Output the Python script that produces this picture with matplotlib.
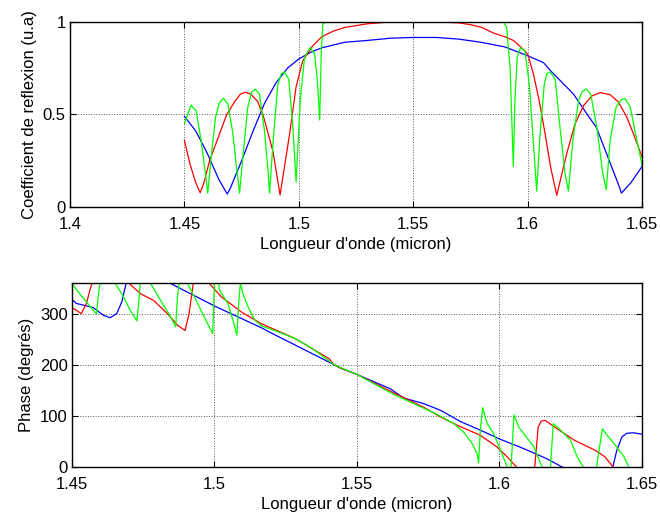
import matplotlib
matplotlib.use('Agg')
import matplotlib.pyplot as plt

plt.rcParams['font.family'] = ['Liberation Sans', 'DejaVu Sans']
plt.rcParams['font.size'] = 12

# --- Coefficient de reflexion (haut) ---
lam_rb = [1.45, 1.455, 1.46, 1.465, 1.4687, 1.47, 1.475, 1.48, 1.485, 1.49, 1.495, 1.5,
          1.505, 1.51, 1.515, 1.52, 1.53, 1.54, 1.55, 1.56, 1.57, 1.58, 1.59, 1.6,
          1.6069, 1.61, 1.62, 1.626, 1.63, 1.635, 1.64, 1.6409, 1.645, 1.65]
ref_b = [0.49, 0.41, 0.29, 0.15, 0.07, 0.10, 0.25, 0.41, 0.56, 0.67, 0.75, 0.80,
         0.835, 0.86, 0.875, 0.89, 0.90, 0.912, 0.916, 0.916, 0.907, 0.889, 0.865, 0.817,
         0.78, 0.736, 0.61, 0.50, 0.43, 0.27, 0.11, 0.075, 0.13, 0.22]

lam_rr = [1.45, 1.4525, 1.455, 1.4569, 1.4585, 1.461, 1.4655, 1.4685, 1.472, 1.4745,
          1.4765, 1.479, 1.482, 1.4843, 1.4887, 1.4918, 1.4959, 1.4988, 1.5017, 1.506,
          1.51, 1.515, 1.52, 1.53, 1.54, 1.55, 1.56, 1.57, 1.575, 1.58, 1.585, 1.59,
          1.5937, 1.5974, 1.6, 1.6025, 1.605, 1.6076, 1.61, 1.6127, 1.6149, 1.6174,
          1.6207, 1.6244, 1.628, 1.6317, 1.636, 1.6397, 1.6433, 1.6462, 1.65]
ref_r = [0.36, 0.23, 0.13, 0.077, 0.13, 0.25, 0.40, 0.50, 0.57, 0.61,
         0.62, 0.61, 0.57, 0.50, 0.30, 0.065, 0.39, 0.65, 0.79, 0.87,
         0.92, 0.95, 0.97, 0.99, 1.0, 1.0, 1.0, 0.995, 0.985, 0.97, 0.94, 0.92,
         0.90, 0.86, 0.826, 0.718, 0.575, 0.395, 0.215, 0.063, 0.18, 0.305,
         0.45, 0.548, 0.60, 0.618, 0.607, 0.566, 0.485, 0.395, 0.27]

lam_rg = [1.45, 1.4529, 1.4551, 1.4573, 1.4592, 1.4602, 1.4617, 1.4636, 1.4653, 1.4671,
          1.469, 1.4712, 1.4729, 1.4741, 1.4758, 1.4777, 1.4793, 1.481, 1.4828, 1.485,
          1.4865, 1.4872, 1.489, 1.4908, 1.4923, 1.4937, 1.4956, 1.4974, 1.4988, 1.5006,
          1.5025, 1.505, 1.5069, 1.5081, 1.5091, 1.5098, 1.5105, 1.512, 1.55, 1.5894,
          1.5908, 1.5923, 1.5937, 1.5944, 1.5954, 1.5969, 1.5988, 1.6007, 1.6024, 1.6039,
          1.6054, 1.6072, 1.6083, 1.6098, 1.612, 1.6141, 1.6163, 1.6178, 1.6197, 1.6222,
          1.6238, 1.6255, 1.6275, 1.6302, 1.6328, 1.6343, 1.636, 1.6386, 1.6407, 1.6425,
          1.6448, 1.6471, 1.65]
ref_g = [0.45, 0.55, 0.52, 0.36, 0.18, 0.075, 0.27, 0.485, 0.565, 0.587,
         0.557, 0.395, 0.20, 0.075, 0.305, 0.54, 0.62, 0.637, 0.61, 0.41,
         0.20, 0.075, 0.395, 0.66, 0.72, 0.73, 0.69, 0.43, 0.135, 0.575,
         0.81, 0.862, 0.826, 0.68, 0.47, 0.84, 0.99, 1.0, 1.0, 1.0,
         0.97, 0.75, 0.22, 0.575, 0.81, 0.862, 0.84, 0.66, 0.36, 0.086,
         0.395, 0.66, 0.72, 0.73, 0.69, 0.43, 0.18, 0.086, 0.36, 0.575,
         0.625, 0.637, 0.61, 0.43, 0.18, 0.093, 0.36, 0.54, 0.578, 0.587,
         0.54, 0.395, 0.224]

# --- Phase (bas) ---
lam_pb = [1.45, 1.4515, 1.4574, 1.461, 1.4634, 1.4657, 1.4675, 1.469, 1.472, 1.478,
          1.4846, 1.5, 1.5166, 1.52, 1.542, 1.5441, 1.55, 1.5617, 1.5664, 1.5734,
          1.5793, 1.5863, 1.5933, 1.6, 1.6085, 1.6167, 1.622, 1.63, 1.6385, 1.6398,
          1.6412, 1.643, 1.6447, 1.6471, 1.65]
ph_b = [328, 320, 312, 297, 292, 300, 323, 359, 385, 375,
        359, 315, 272, 262, 200, 194, 181, 153, 135, 124,
        111, 89, 72, 55, 36, 16, 0, -20, -35, 0,
        33, 59, 66, 67, 64]

lam_pr = [1.45, 1.4533, 1.4551, 1.4563, 1.4571, 1.463, 1.4699, 1.474, 1.4786, 1.4835,
          1.4871, 1.4897, 1.4911, 1.4926, 1.495, 1.4982, 1.5024, 1.5095, 1.5166, 1.5284,
          1.5402, 1.542, 1.5441, 1.55, 1.5629, 1.5734, 1.5793, 1.5851, 1.5933, 1.5992,
          1.6027, 1.606, 1.609, 1.6124, 1.6136, 1.6147, 1.6161, 1.6194, 1.6264, 1.6335,
          1.637, 1.6399, 1.645, 1.65]
ph_r = [312, 300, 320, 346, 360, 395, 360, 339, 326, 300,
        277, 267, 300, 360, 390, 359, 333, 303, 280, 251,
        212, 200, 194, 181, 145, 117, 98, 82, 62, 39,
        20, 0, -20, 0, 78, 90, 91, 78, 52, 33,
        20, 0, -20, -30]

lam_pg = [1.45, 1.4527, 1.4551, 1.4574, 1.4586, 1.4592, 1.4598, 1.462, 1.4651, 1.4681,
          1.4704, 1.4728, 1.4734, 1.474, 1.476, 1.4775, 1.4811, 1.484, 1.4864, 1.487,
          1.4876, 1.489, 1.4905, 1.4941, 1.497, 1.4994, 1.5, 1.5009, 1.5018, 1.5047,
          1.5065, 1.5079, 1.5085, 1.5091, 1.51, 1.5118, 1.5142, 1.5166, 1.5225, 1.5284,
          1.5343, 1.542, 1.55, 1.5629, 1.5676, 1.5781, 1.584, 1.5875, 1.5904, 1.5922,
          1.5927, 1.5933, 1.5941, 1.5957, 1.598, 1.6004, 1.6027, 1.6035, 1.6041, 1.6051,
          1.6068, 1.6086, 1.6121, 1.615, 1.6165, 1.6179, 1.6189, 1.6215, 1.625, 1.6273,
          1.6294, 1.632, 1.6341, 1.6361, 1.6378, 1.6402, 1.6437, 1.6454, 1.65]
ph_g = [359, 339, 323, 307, 299, 333, 359, 385, 360, 333,
        307, 286, 320, 360, 385, 360, 326, 300, 274, 330,
        359, 385, 360, 320, 287, 261, 359, 385, 346, 320,
        287, 258, 320, 360, 339, 313, 287, 276, 264, 251,
        232, 200, 181, 142, 130, 103, 85, 68, 46, 26,
        8, 72, 116, 85, 65, 33, 0, -15, 0, 102,
        78, 65, 39, 0, -15, 0, 85, 72, 52, 20,
        0, -15, 0, 75, 62, 46, 20, 0, -30]

fig = plt.figure(figsize=(6.6, 5.17), dpi=100)
ax1 = fig.add_axes([0.106, 0.5996, 0.867, 0.358])
ax2 = fig.add_axes([0.109, 0.0967, 0.8636, 0.356])

lw = 0.9
ax1.plot(lam_rb, ref_b, color='#0000ff', lw=lw)
ax1.plot(lam_rr, ref_r, color='#ff0000', lw=lw)
ax1.plot(lam_rg, ref_g, color='#00ff00', lw=lw)
ax1.set_xlim(1.4, 1.65)
ax1.set_ylim(0, 1)
ax1.set_xticks([1.4, 1.45, 1.5, 1.55, 1.6, 1.65])
ax1.set_xticklabels(['1.4', '1.45', '1.5', '1.55', '1.6', '1.65'])
ax1.set_yticks([0, 0.5, 1])
ax1.set_yticklabels(['0', '0.5', '1'])
ax1.set_xlabel("Longueur d'onde (micron)", labelpad=4)
ax1.set_ylabel('Coefficient de reflexion (u.a)', labelpad=4)

ax2.plot(lam_pb, ph_b, color='#0000ff', lw=lw)
ax2.plot(lam_pr, ph_r, color='#ff0000', lw=lw)
ax2.plot(lam_pg, ph_g, color='#00ff00', lw=lw)
ax2.set_xlim(1.45, 1.65)
ax2.set_ylim(0, 360)
ax2.set_xticks([1.45, 1.5, 1.55, 1.6, 1.65])
ax2.set_xticklabels(['1.45', '1.5', '1.55', '1.6', '1.65'])
ax2.set_yticks([0, 100, 200, 300])
ax2.set_xlabel("Longueur d'onde (micron)", labelpad=4)
ax2.set_ylabel('Phase (degrés)', labelpad=4)

for ax in (ax1, ax2):
    ax.grid(True, color='0.35', linestyle=':', linewidth=0.7)
    ax.set_axisbelow(True)
    ax.tick_params(direction='in', length=4, width=0.8, top=True, right=True,
                   labelsize=12)
    ax.tick_params(axis='x', pad=7)
    ax.tick_params(axis='y', pad=3)
    for s in ax.spines.values():
        s.set_linewidth(1.0)

fig.savefig('out.png', dpi=100)
